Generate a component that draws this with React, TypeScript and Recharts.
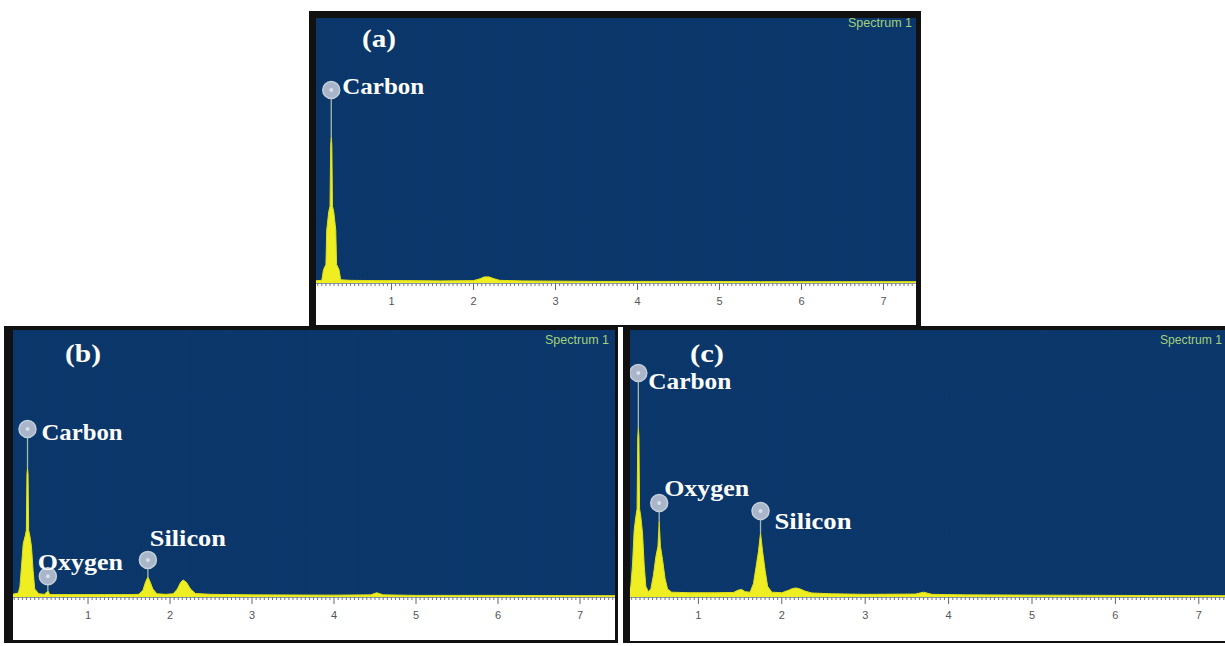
import React from "react";
import { ComposedChart, Area, XAxis, YAxis, CartesianGrid, ReferenceDot, ReferenceLine } from "recharts";

// x axis (keV)
const majorTicks = [1, 2, 3, 4, 5, 6, 7];
const tickLabels = ["1", "2", "3", "4", "5", "6", "7"];

// spectrum (a)
const kevA = [0.05, 0.15, 0.17, 0.2, 0.21, 0.235, 0.25, 0.258, 0.265, 0.272, 0.28, 0.295, 0.32, 0.33, 0.36, 0.38, 0.5, 0.8, 1.2, 1.6, 2.0, 2.08, 2.13, 2.19, 2.25, 2.32, 2.6, 3.5, 4.5, 5.5, 6.5, 7.5];
const countsA = [0.8, 1.0, 5, 7, 20, 27, 29, 52, 55, 52, 29, 27, 20, 7, 5, 1.2, 1.0, 0.9, 0.9, 0.8, 0.9, 1.6, 2.3, 2.3, 1.6, 1.0, 0.8, 0.6, 0.6, 0.5, 0.5, 0.5];

// spectrum (b)
const kevB = [0.05, 0.15, 0.17, 0.19, 0.21, 0.235, 0.248, 0.255, 0.262, 0.269, 0.276, 0.29, 0.31, 0.33, 0.35, 0.4, 0.47, 0.5, 0.515, 0.53, 0.56, 0.8, 1.2, 1.5, 1.62, 1.67, 1.7, 1.73, 1.76, 1.79, 1.84, 1.95, 2.04, 2.09, 2.13, 2.16, 2.2, 2.25, 2.31, 2.5, 3.0, 4.0, 4.45, 4.52, 4.6, 5.0, 6.0, 7.0, 7.5];
const countsB = [0.8, 1.5, 4, 12, 20, 23, 25, 46, 48.3, 46, 25, 23, 19, 10, 3, 1.2, 1.0, 2.0, 2.2, 1.0, 0.9, 0.9, 0.9, 0.9, 1.0, 2.5, 5.5, 7.5, 5.5, 3, 1.2, 1.0, 1.2, 3, 5.5, 6.4, 5.5, 3, 1.3, 1.0, 0.8, 0.7, 0.8, 1.6, 0.8, 0.6, 0.6, 0.5, 0.5];

// spectrum (c)
const kevC = [0.15, 0.19, 0.21, 0.23, 0.25, 0.265, 0.273, 0.28, 0.287, 0.295, 0.31, 0.33, 0.35, 0.37, 0.4, 0.43, 0.46, 0.49, 0.515, 0.53, 0.545, 0.57, 0.6, 0.63, 0.68, 0.9, 1.2, 1.42, 1.48, 1.52, 1.56, 1.62, 1.66, 1.69, 1.72, 1.745, 1.77, 1.8, 1.83, 1.88, 2.0, 2.08, 2.13, 2.17, 2.22, 2.28, 2.36, 2.6, 3.0, 3.6, 3.7, 3.8, 4.2, 5.0, 6.0, 7.0, 7.4];
const countsC = [2, 4, 12, 25, 30, 33, 60, 63.3, 60, 33, 30, 24, 12, 4, 2, 3, 8, 15, 19, 28.1, 19, 14, 7, 3, 1.8, 1.6, 1.6, 1.7, 2.6, 2.8, 2.0, 1.8, 5, 11, 17, 24, 17, 10, 4, 1.8, 1.6, 2.5, 3.2, 3.4, 3.0, 2.2, 1.5, 1.2, 1.0, 1.1, 1.8, 1.0, 0.8, 0.7, 0.6, 0.5, 0.5];

// identified elements
const elementsA = ["Carbon"];
const elemKevA = [0.265];
const markerA = [72.8];
const peakA = [55];

const elementsB = ["Carbon", "Oxygen", "Silicon"];
const elemKevB = [0.262, 0.51, 1.73];
const markerB = [62.9, 7.8, 13.9];
const peakB = [48.3, 2.2, 7.5];

const elementsC = ["Carbon", "Oxygen", "Silicon"];
const elemKevC = [0.28, 0.53, 1.745];
const markerC = [83.9, 35.2, 32.2];
const peakC = [63.3, 28.1, 24];

const BLUE = "#0b376b";
const YELLOW = "#eeee22";

// label placement relative to marker: [dx, dy, textLength]
const labelLayout: Record<string, number[]> = {
  "a-Carbon": [11, -4, 82],
  "b-Carbon": [14, 3, 81],
  "b-Oxygen": [-10, -14, 85],
  "b-Silicon": [2, -22, 76],
  "c-Carbon": [10, 8, 83],
  "c-Oxygen": [5, -15, 85],
  "c-Silicon": [14, 10, 77],
};

function KevTick(props: any) {
  const { x, y, payload } = props;
  const v = payload.value;
  const idx = majorTicks.findIndex((m) => Math.abs(m - v) < 1e-6);
  if (idx >= 0) {
    return (
      <g>
        <line x1={x} x2={x} y1={y} y2={y + 7} stroke="#666" strokeWidth={1} />
        <text x={x} y={y + 18} textAnchor="middle" dominantBaseline="central" fontSize={11} fill="#555" fontFamily="Liberation Sans, Arial, sans-serif">
          {tickLabels[idx]}
        </text>
      </g>
    );
  }
  return <line x1={x} x2={x} y1={y} y2={y + 3} stroke="#777" strokeWidth={1} />;
}

function Marker({ cx, cy, name, layout }: any) {
  const [dx, dy, len] = layout;
  return (
    <g>
      <circle cx={cx} cy={cy} r={8.5} fill="#a9b5c9" stroke="#c4cedb" strokeWidth={1.5} />
      <circle cx={cx} cy={cy} r={2} fill="#d9dfe8" />
      <text
        x={cx + dx}
        y={cy + dy}
        dominantBaseline="central"
        fontFamily="Liberation Serif, Times New Roman, serif"
        fontWeight="bold"
        fontSize={24}
        fill="#ffffff"
        textLength={len}
        lengthAdjust="spacingAndGlyphs"
      >
        {name}
      </text>
    </g>
  );
}

type PanelProps = {
  id: string;
  kev: number[];
  counts: number[];
  names: string[];
  elemKev: number[];
  marker: number[];
  peak: number[];
  domain: [number, number];
  left: number;
  top: number;
  width: number;
  plotHeight: number;
  stripHeight: number;
};

function EdsPanel(p: PanelProps) {
  const data = p.kev.map((k, i) => ({ kev: k, counts: p.counts[i] }));
  const axisTicks = Array.from({ length: 160 }, (_, i) => Math.round((i + 1) * 5) / 100).filter(
    (t) => t > p.domain[0] && t < p.domain[1]
  );
  return (
    <div style={{ position: "absolute", left: p.left, top: p.top, background: "#fff" }}>
      <ComposedChart
        width={p.width}
        height={p.plotHeight + p.stripHeight}
        data={data}
        margin={{ top: 0, right: 0, bottom: 0, left: 0 }}
      >
        <CartesianGrid fill={BLUE} fillOpacity={1} stroke={BLUE} />
        <XAxis
          type="number"
          dataKey="kev"
          domain={p.domain}
          allowDataOverflow
          ticks={axisTicks}
          interval={0}
          tick={<KevTick />}
          tickLine={false}
          axisLine={false}
          tickSize={0}
          tickMargin={0}
          height={p.stripHeight}
        />
        <YAxis type="number" domain={[0, 100]} allowDataOverflow hide />
        <Area
          type="linear"
          dataKey="counts"
          fill={YELLOW}
          fillOpacity={1}
          stroke="#e0e018"
          strokeWidth={1}
          dot={false}
          activeDot={false}
          isAnimationActive={false}
        />
        {p.names.map((n, i) => (
          <ReferenceLine
            key={"l" + n}
            segment={[
              { x: p.elemKev[i], y: p.peak[i] },
              { x: p.elemKev[i], y: p.marker[i] },
            ]}
            stroke="#a8baa8"
            strokeWidth={1.3}
            ifOverflow="visible"
          />
        ))}
        {p.names.map((n, i) => (
          <ReferenceDot
            key={"d" + n}
            x={p.elemKev[i]}
            y={p.marker[i]}
            r={8}
            ifOverflow="visible"
            shape={(sp: any) => <Marker cx={sp.cx} cy={sp.cy} name={n} layout={labelLayout[p.id + "-" + n]} />}
          />
        ))}
      </ComposedChart>
    </div>
  );
}

const frameStyle = (l: number, t: number, w: number, h: number, bl: number, bt: number, br: number, bb: number): React.CSSProperties => ({
  position: "absolute",
  left: l,
  top: t,
  width: w,
  height: h,
  boxSizing: "border-box",
  borderStyle: "solid",
  borderColor: "#111",
  borderWidth: `${bt}px ${br}px ${bb}px ${bl}px`,
  background: "#fff",
});

const serif = "Liberation Serif, Times New Roman, serif";
const sans = "Liberation Sans, Arial, sans-serif";

export default function App() {
  return (
    <div style={{ position: "absolute", left: 0, top: 0, width: 1225, height: 646, background: "#fff", overflow: "hidden" }}>
      <div style={frameStyle(309, 11, 612, 316, 7, 7, 5, 2)} />
      <div style={frameStyle(4, 326, 614, 317, 9, 4, 3, 3)} />
      <div style={frameStyle(623, 326, 604, 317, 7, 4, 0, 2)} />

      <EdsPanel
        id="a"
        kev={kevA}
        counts={countsA}
        names={elementsA}
        elemKev={elemKevA}
        marker={markerA}
        peak={peakA}
        domain={[0.079, 7.396]}
        left={316}
        top={18}
        width={600}
        plotHeight={265}
        stripHeight={42}
      />
      <EdsPanel
        id="b"
        kev={kevB}
        counts={countsB}
        names={elementsB}
        elemKev={elemKevB}
        marker={markerB}
        peak={peakB}
        domain={[0.085, 7.427]}
        left={13}
        top={330}
        width={602}
        plotHeight={267}
        stripHeight={43}
      />
      <EdsPanel
        id="c"
        kev={kevC}
        counts={countsC}
        names={elementsC}
        elemKev={elemKevC}
        marker={markerC}
        peak={peakC}
        domain={[0.18, 7.314]}
        left={630}
        top={330}
        width={595}
        plotHeight={267}
        stripHeight={44}
      />

      <svg width={1225} height={646} style={{ position: "absolute", left: 0, top: 0, pointerEvents: "none" }}>
        <text x={362} y={38} dominantBaseline="central" fontFamily={serif} fontWeight="bold" fontSize={25} fill="#fff" textLength={34} lengthAdjust="spacingAndGlyphs">(a)</text>
        <text x={65} y={353} dominantBaseline="central" fontFamily={serif} fontWeight="bold" fontSize={25} fill="#fff" textLength={36} lengthAdjust="spacingAndGlyphs">(b)</text>
        <text x={690} y={353} dominantBaseline="central" fontFamily={serif} fontWeight="bold" fontSize={25} fill="#fff" textLength={34} lengthAdjust="spacingAndGlyphs">(c)</text>
        <text x={848} y={23} dominantBaseline="central" fontFamily={sans} fontSize={12} fill="#a2d07c" textLength={64} lengthAdjust="spacingAndGlyphs">Spectrum 1</text>
        <text x={545} y={340} dominantBaseline="central" fontFamily={sans} fontSize={12} fill="#a2d07c" textLength={64} lengthAdjust="spacingAndGlyphs">Spectrum 1</text>
        <text x={1160} y={340} dominantBaseline="central" fontFamily={sans} fontSize={12} fill="#a2d07c" textLength={62} lengthAdjust="spacingAndGlyphs">Spectrum 1</text>
      </svg>
    </div>
  );
}
